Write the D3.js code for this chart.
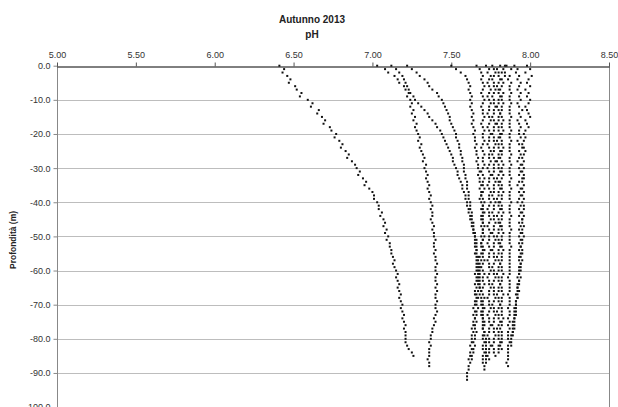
<!DOCTYPE html>
<html><head><meta charset="utf-8">
<script src="https://cdn.jsdelivr.net/npm/d3@7/dist/d3.min.js"></script>
<style>
body{margin:0;background:#fff;}
svg{display:block;font-family:"Liberation Sans",Arial,sans-serif;}
</style>
</head><body>
<svg id="chart" width="618" height="407"></svg>
<script>
const chartTitle = "Autunno 2013";
const xTitle = "pH";
const yTitle = "Profondità (m)";
const xTicks = [5.00, 5.50, 6.00, 6.50, 7.00, 7.50, 8.00, 8.50];
const yTicks = [0, -10, -20, -30, -40, -50, -60, -70, -80, -90, -100];
const depthStep = 1; // metres between consecutive readings of a cast

// pH readings of each cast, from the surface downward (one per metre)
const cast1 = [6.41,6.44,6.43,6.46,6.48,6.47,6.51,6.52,6.55,6.54,
 6.59,6.62,6.61,6.66,6.65,6.68,6.70,6.69,6.73,6.74,
 6.77,6.76,6.79,6.81,6.80,6.83,6.85,6.84,6.87,6.89,
 6.90,6.92,6.91,6.94,6.96,6.95,6.98,7.00,7.01,7.01,
 7.03,7.04,7.04,7.06,7.05,7.07,7.08,7.07,7.09,7.08,
 7.10,7.09,7.11,7.11,7.12,7.12,7.13,7.14,7.13,7.14,
 7.15,7.16,7.15,7.16,7.17,7.16,7.17,7.18,7.17,7.18,
 7.19,7.18,7.19,7.20,7.19,7.20,7.21,7.20,7.21,7.21,
 7.21,7.21,7.22,7.23,7.25,7.26];
const cast2 = [7.03,7.08,7.10,7.14,7.16,7.17,7.20,7.21,7.23,7.22,
 7.24,7.25,7.24,7.26,7.25,7.27,7.26,7.28,7.27,7.28,
 7.29,7.30,7.29,7.31,7.30,7.31,7.32,7.33,7.32,7.34,
 7.33,7.34,7.35,7.34,7.35,7.36,7.35,7.36,7.37,7.36,
 7.37,7.38,7.37,7.38,7.38,7.37,7.38,7.39,7.38,7.39,
 7.39,7.40,7.39,7.39,7.40,7.39,7.40,7.40,7.41,7.40,
 7.40,7.41,7.40,7.40,7.41,7.40,7.41,7.40,7.40,7.41,
 7.40,7.40,7.41,7.40,7.39,7.40,7.39,7.38,7.38,7.37,
 7.37,7.36,7.37,7.36,7.36,7.36,7.35,7.36,7.36];
const cast3 = [7.22,7.25,7.28,7.30,7.33,7.35,7.36,7.38,7.41,7.42,
 7.44,7.45,7.46,7.47,7.48,7.49,7.49,7.50,7.51,7.52,
 7.53,7.53,7.54,7.55,7.55,7.56,7.56,7.57,7.57,7.58,
 7.58,7.58,7.59,7.59,7.60,7.60,7.60,7.61,7.61,7.61,
 7.62,7.62,7.62,7.63,7.63,7.63,7.64,7.64,7.64,7.65,
 7.65,7.66,7.65,7.66,7.66,7.65,7.66,7.67,7.66,7.66,
 7.66,7.65,7.66,7.66,7.65,7.66,7.65,7.65,7.66,7.65,
 7.65,7.64,7.65,7.64,7.65,7.64,7.64,7.63,7.64,7.63,
 7.63,7.63,7.62,7.63,7.62,7.62,7.61,7.62,7.61,7.61,
 7.60,7.60,7.60];
const cast4 = [7.12,7.15,7.17,7.19,7.20,7.21,7.22,7.23,7.24,7.26,
 7.27,7.29,7.31,7.33,7.35,7.36,7.38,7.40,7.41,7.43,
 7.44,7.45,7.46,7.47,7.48,7.49,7.50,7.51,7.51,7.52,
 7.53,7.54,7.54,7.55,7.56,7.57,7.57,7.58,7.59,7.59,
 7.60,7.60,7.61,7.61,7.62,7.62,7.63,7.63,7.64,7.64,
 7.65,7.65,7.66,7.65,7.66,7.66,7.67,7.66,7.67,7.67,
 7.67,7.68,7.67,7.68,7.68,7.68,7.69,7.68,7.69,7.69,
 7.69,7.70,7.69,7.70,7.70,7.70,7.71,7.70,7.71,7.71,
 7.72,7.72,7.72,7.72,7.72,7.72,7.72,7.72,7.71,7.71];
const cast5 = [7.50,7.53,7.56,7.59,7.60,7.61,7.62,7.61,7.62,7.63,
 7.62,7.63,7.62,7.63,7.64,7.63,7.64,7.63,7.64,7.65,
 7.64,7.65,7.65,7.66,7.65,7.66,7.66,7.67,7.66,7.67,
 7.67,7.68,7.67,7.68,7.68,7.69,7.68,7.69,7.69,7.68,
 7.69,7.70,7.69,7.70,7.69,7.70,7.70,7.69,7.70,7.70,
 7.69,7.70,7.69,7.69,7.70,7.69,7.68,7.69,7.68,7.68,
 7.68,7.67,7.68,7.67,7.67,7.68,7.67,7.66,7.67,7.66,
 7.66,7.67,7.66,7.66,7.65,7.66,7.65,7.65,7.66,7.65,
 7.65,7.64,7.65,7.64,7.64,7.63,7.63];
const cast6 = [7.66,7.68,7.69,7.70,7.69,7.70,7.71,7.70,7.69,7.70,
 7.71,7.70,7.69,7.70,7.70,7.71,7.70,7.69,7.70,7.71,
 7.70,7.70,7.71,7.70,7.69,7.70,7.71,7.70,7.70,7.71,
 7.70,7.69,7.70,7.71,7.70,7.70,7.71,7.70,7.69,7.70,
 7.71,7.70,7.70,7.71,7.70,7.69,7.70,7.71,7.70,7.70,
 7.71,7.70,7.69,7.70,7.71,7.70,7.70,7.71,7.70,7.69,
 7.70,7.71,7.70,7.70,7.71,7.70,7.69,7.70,7.71,7.70,
 7.70,7.71,7.70,7.69,7.70,7.71,7.70,7.70,7.71,7.70,
 7.70,7.71,7.70,7.70,7.71,7.70,7.70,7.70];
const cast7 = [7.72,7.74,7.73,7.75,7.74,7.73,7.74,7.75,7.74,7.73,
 7.74,7.75,7.74,7.74,7.73,7.74,7.75,7.74,7.73,7.74,
 7.75,7.74,7.74,7.73,7.74,7.75,7.74,7.74,7.75,7.74,
 7.73,7.74,7.75,7.74,7.74,7.73,7.74,7.75,7.74,7.74,
 7.75,7.74,7.73,7.74,7.74,7.75,7.74,7.73,7.74,7.75,
 7.74,7.74,7.73,7.74,7.75,7.74,7.74,7.73,7.74,7.74,
 7.75,7.74,7.73,7.74,7.74,7.75,7.74,7.74,7.73,7.74,
 7.74,7.75,7.74,7.73,7.74,7.74,7.75,7.74,7.74,7.73,
 7.74,7.74,7.75,7.74,7.74,7.73,7.74];
const cast8 = [7.76,7.77,7.78,7.77,7.76,7.77,7.77,7.78,7.77,7.76,
 7.77,7.77,7.78,7.77,7.77,7.76,7.77,7.78,7.77,7.77,
 7.76,7.77,7.77,7.78,7.77,7.77,7.76,7.77,7.78,7.77,
 7.77,7.77,7.76,7.77,7.78,7.77,7.77,7.77,7.76,7.77,
 7.78,7.77,7.77,7.76,7.77,7.77,7.78,7.77,7.77,7.76,
 7.77,7.78,7.77,7.77,7.76,7.77,7.77,7.78,7.77,7.76,
 7.77,7.77,7.78,7.77,7.76,7.77,7.77,7.77,7.78,7.77,
 7.76,7.77,7.77,7.78,7.77,7.77,7.76,7.77,7.77,7.78,
 7.77,7.77,7.76,7.77,7.77,7.78];
const cast9 = [7.81,7.79,7.80,7.80,7.81,7.80,7.79,7.80,7.80,7.81,
 7.80,7.80,7.79,7.80,7.81,7.80,7.80,7.79,7.80,7.80,
 7.81,7.80,7.79,7.80,7.80,7.81,7.80,7.80,7.79,7.80,
 7.80,7.81,7.80,7.79,7.80,7.80,7.81,7.80,7.80,7.79,
 7.80,7.80,7.81,7.80,7.79,7.80,7.80,7.81,7.80,7.80,
 7.79,7.80,7.80,7.81,7.80,7.80,7.79,7.80,7.81,7.80,
 7.80,7.79,7.80,7.80,7.81,7.80,7.80,7.79,7.80,7.80,
 7.81,7.80,7.79,7.80,7.80,7.81,7.80,7.79,7.80,7.80,
 7.80,7.81,7.80,7.80,7.80];
const cast10 = [7.84,7.83,7.82,7.84,7.82,7.83,7.82,7.81,7.83,7.82,
 7.82,7.83,7.82,7.82,7.81,7.82,7.83,7.82,7.82,7.83,
 7.82,7.81,7.82,7.82,7.83,7.82,7.82,7.81,7.82,7.83,
 7.82,7.82,7.83,7.82,7.81,7.82,7.82,7.83,7.82,7.82,
 7.81,7.82,7.82,7.83,7.82,7.82,7.81,7.82,7.82,7.83,
 7.82,7.82,7.81,7.82,7.83,7.82,7.82,7.82,7.81,7.82,
 7.82,7.83,7.82,7.82,7.81,7.82,7.82,7.83,7.82,7.82,
 7.81,7.82,7.82,7.82,7.83,7.82,7.82,7.81,7.82,7.82,
 7.82,7.82,7.81,7.82];
const cast11 = [7.85,7.88,7.84,7.87,7.86,7.88,7.87,7.87,7.88,7.87,
 7.87,7.88,7.87,7.87,7.87,7.88,7.87,7.87,7.87,7.88,
 7.87,7.87,7.88,7.87,7.87,7.87,7.88,7.87,7.87,7.88,
 7.87,7.87,7.87,7.88,7.87,7.87,7.88,7.87,7.87,7.87,
 7.88,7.87,7.87,7.87,7.88,7.87,7.87,7.87,7.88,7.87,
 7.87,7.87,7.87,7.88,7.87,7.87,7.87,7.87,7.87,7.87,
 7.87,7.87,7.86,7.87,7.87,7.87,7.87,7.86,7.87,7.87,
 7.87,7.86,7.87,7.87,7.86,7.87,7.86,7.87,7.86,7.86,
 7.86,7.87,7.86,7.86,7.86,7.86,7.86,7.85,7.86];
const cast12 = [7.90,7.92,7.91,7.93,7.92,7.94,7.93,7.92,7.94,7.93,
 7.94,7.92,7.93,7.95,7.93,7.94,7.92,7.93,7.94,7.93,
 7.93,7.94,7.92,7.93,7.95,7.93,7.94,7.93,7.92,7.94,
 7.93,7.94,7.93,7.95,7.93,7.92,7.94,7.93,7.94,7.93,
 7.92,7.94,7.93,7.94,7.93,7.95,7.93,7.94,7.93,7.94,
 7.93,7.94,7.93,7.94,7.93,7.94,7.93,7.93,7.94,7.93,
 7.93,7.93,7.92,7.93,7.92,7.92,7.92,7.91,7.92,7.91,
 7.91,7.91,7.90,7.91,7.90,7.90,7.89,7.90,7.89,7.89];
const cast13 = [7.98,8.00,7.97,8.01,7.99,7.98,8.00,7.97,7.99,7.98,
 8.00,7.99,7.97,7.98,7.99,8.00,7.97,7.98,7.99,7.97,
 7.96,7.97,7.96,7.95,7.96,7.97,7.96,7.95,7.96,7.95,
 7.96,7.95,7.96,7.96,7.95,7.96,7.95,7.96,7.95,7.96,
 7.95,7.96,7.96,7.95,7.96,7.95,7.95,7.96,7.95,7.95,
 7.96,7.95,7.95,7.94,7.95,7.95,7.94,7.95,7.94,7.94,
 7.94,7.93,7.94,7.93,7.93,7.92,7.93,7.92,7.92,7.91,
 7.91,7.90,7.91,7.90,7.90,7.89,7.90,7.89,7.89,7.88,
 7.88,7.88,7.88];

const casts = [cast1, cast2, cast3, cast4, cast5, cast6, cast7, cast8, cast9, cast10, cast11, cast12, cast13];

const svg = d3.select("#chart");
const W = 618, H = 407;
svg.append("rect").attr("width", W).attr("height", H).attr("fill", "#fff");

const x = d3.scaleLinear().domain([5, 8.5]).range([57, 609]);
const y = d3.scaleLinear().domain([0, -100]).range([65.7, 407.1]);

// gridlines
svg.append("g").selectAll("line").data(yTicks.filter(d => d !== 0)).join("line")
  .attr("x1", x(5)).attr("x2", x(8.5))
  .attr("y1", d => Math.round(y(d)) + 0.5).attr("y2", d => Math.round(y(d)) + 0.5)
  .attr("stroke", "#bdbdbd").attr("stroke-width", 1);

// right border
svg.append("line").attr("x1", Math.round(x(8.5)) + 0.5).attr("x2", Math.round(x(8.5)) + 0.5)
  .attr("y1", y(0)).attr("y2", H + 10).attr("stroke", "#888").attr("stroke-width", 1);

// left axis
const yAxis = d3.axisLeft(y).tickValues(yTicks).tickFormat(d => d.toFixed(1)).tickSize(4).tickPadding(3).tickSizeOuter(0);
const gy = svg.append("g").attr("transform", `translate(${Math.round(x(5)) + 0.5},0)`).call(yAxis);
gy.select(".domain").attr("stroke", "#888").attr("d", `M0,${y(0)}V${H + 10}`);
gy.selectAll(".tick line").attr("stroke", "#888");
gy.selectAll("text").attr("fill", "#333").attr("font-size", 9).attr("font-family", '"Liberation Sans",Arial,sans-serif');

// top axis
const xAxis = d3.axisTop(x).tickValues(xTicks).tickFormat(d => d.toFixed(2)).tickSize(4).tickPadding(5).tickSizeOuter(0);
const gx = svg.append("g").attr("transform", `translate(0,${Math.round(y(0)) + 0.5})`).call(xAxis);
gx.select(".domain").attr("stroke", "#000");
gx.selectAll(".tick line").attr("stroke", "#555");
gx.selectAll("text").attr("fill", "#333").attr("font-size", 9).attr("font-family", '"Liberation Sans",Arial,sans-serif');

// points
const pts = [];
casts.forEach((c, ci) => c.forEach((v, i) => pts.push({ cast: ci, ph: v, depth: -i * depthStep })));
svg.append("g").selectAll("rect").data(pts).join("rect")
  .attr("x", d => x(d.ph) - 1).attr("y", d => y(d.depth) - 1)
  .attr("width", 2).attr("height", 2).attr("fill", "#111");

// titles
svg.append("text").attr("x", 312).attr("y", 23).attr("text-anchor", "middle")
  .attr("font-size", 10).attr("font-weight", "bold").attr("fill", "#222").text(chartTitle);
svg.append("text").attr("x", 312).attr("y", 38).attr("text-anchor", "middle")
  .attr("font-size", 10).attr("font-weight", "bold").attr("fill", "#222").text(xTitle);
svg.append("text").attr("transform", "translate(16,240) rotate(-90)").attr("text-anchor", "middle")
  .attr("font-size", 8.5).attr("font-weight", "bold").attr("fill", "#222").text(yTitle);
</script>
</body></html>
